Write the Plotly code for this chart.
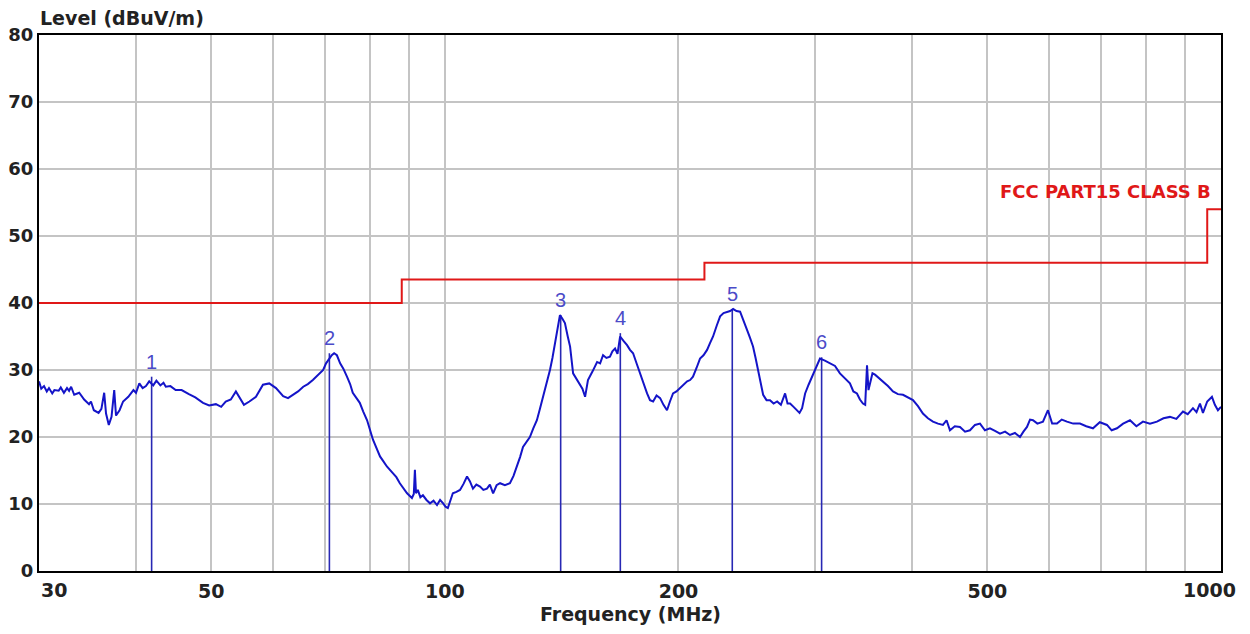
import math
import plotly.graph_objects as go

# ---- data ----
trace_freq = [30.0, 30.2, 30.45, 30.7, 30.9, 31.2, 31.4, 31.8, 32.0, 32.3, 32.6, 32.8, 33.0, 33.3, 33.8,
              34.3, 34.8, 35.0, 35.3, 35.8, 36.1, 36.4, 36.6, 36.9, 37.2, 37.5, 37.7, 38.1, 38.5, 39.1,
              39.7, 40.0, 40.4, 40.8, 41.2, 41.6, 42.1, 42.5, 43.0, 43.4, 43.7, 44.3, 45.0, 45.8, 46.8,
              47.7, 48.8, 49.7, 50.7, 51.5, 52.2, 53.0, 53.8, 54.5, 55.1, 56.0, 57.1, 58.3, 59.4, 60.6,
              61.9, 62.8, 63.7, 64.7, 65.7, 66.6, 67.6, 68.7, 69.7, 70.3, 70.9, 71.5, 72.0, 72.6, 73.3,
              74.0, 74.8, 75.5, 76.1, 76.9, 77.7, 78.5, 79.4, 80.8, 81.6, 82.5, 83.3, 84.2, 85.7, 86.6,
              87.5, 88.5, 89.4, 90.7, 91.2, 91.5, 91.8, 92.3, 93.0, 93.7, 94.7, 95.7, 96.7, 97.7, 98.6,
              99.5, 100.2, 100.9, 101.6, 102.4, 103.5, 104.6, 105.7, 106.8, 107.7, 108.7, 109.8, 111.0,
              112.1, 113.3, 114.3, 115.4, 116.6, 117.8, 119.5, 121.3, 122.6, 123.9, 125.0, 126.1, 127.4,
              128.7, 130.0, 131.4, 132.6, 133.8, 135.2, 136.6, 137.6, 138.7, 139.7, 140.7, 141.8, 142.8,
              144.0, 145.0, 146.3, 147.8, 149.3, 150.4, 151.6, 152.9, 155.0, 157.1, 158.5, 159.9, 161.5,
              163.2, 164.4, 165.7, 166.9, 168.2, 170.0, 171.7, 173.2, 174.8, 176.6, 178.4, 180.3, 182.2,
              183.8, 185.5, 187.4, 189.4, 191.3, 193.3, 195.0, 196.8, 198.8, 200.9, 203.0, 205.2, 207.0,
              208.8, 211.0, 213.2, 215.4, 217.7, 219.6, 221.6, 224.0, 226.3, 228.6, 231.0, 233.1, 235.2,
              237.6, 240.1, 242.6, 245.1, 247.3, 249.5, 251.4, 253.3, 255.2, 257.1, 259.7, 262.4, 265.2,
              268.0, 271.0, 274.4, 276.4, 278.5, 281.4, 284.3, 286.4, 288.6, 291.2, 294.2, 297.2, 300.6,
              304.3, 308.8, 313.5, 318.2, 322.9, 327.7, 332.6, 336.0, 339.6, 342.6, 345.7, 348.0, 349.9,
              351.4, 353.0, 355.6, 358.3, 362.5, 366.9, 372.3, 377.9, 383.5, 389.3, 395.0, 401.0, 407.0,
              413.0, 419.2, 425.5, 431.9, 438.3, 443.0, 447.5, 454.0, 461.0, 468.0, 474.9, 482.0, 489.2,
              496.4, 503.9, 511.5, 519.1, 527.0, 534.7, 542.7, 550.8, 556.5, 562.4, 567.5, 572.5, 580.0,
              589.7, 598.5, 606.0, 614.7, 623.5, 633.2, 645.0, 658.1, 670.5, 684.0, 698.0, 713.0, 723.0,
              734.5, 748.0, 763.4, 778.0, 793.4, 810.0, 827.0, 843.0, 859.5, 876.0, 893.3, 906.0, 920.2,
              930.0, 939.5, 947.9, 960.0, 973.5, 982.0, 991.0, 1000.0]
trace_level = [28.3, 27.2, 27.6, 26.8, 27.3, 26.5, 27.0, 26.9, 27.4, 26.6, 27.3, 26.9, 27.5, 26.3, 26.6,
               25.6, 24.9, 25.3, 24.0, 23.6, 24.2, 26.6, 23.5, 21.8, 23.0, 27.0, 23.2, 24.0, 25.3, 26.0,
               27.0, 26.6, 28.0, 27.3, 27.6, 28.3, 27.7, 28.4, 27.7, 28.1, 27.5, 27.6, 27.0, 27.0, 26.4,
               25.9, 25.1, 24.7, 24.9, 24.5, 25.3, 25.6, 26.8, 25.6, 24.8, 25.3, 26.0, 27.8, 28.0, 27.3,
               26.1, 25.8, 26.3, 26.8, 27.5, 27.9, 28.5, 29.3, 30.0, 31.0, 31.7, 32.2, 32.5, 32.2, 31.0,
               30.2, 29.0, 27.9, 26.6, 25.9, 25.1, 23.8, 22.5, 19.6, 18.3, 17.1, 16.4, 15.6, 14.6, 14.0,
               13.1, 12.3, 11.6, 10.9, 11.5, 15.1, 11.6, 12.1, 11.0, 11.3, 10.6, 10.1, 10.5, 9.85, 10.6,
               10.1, 9.6, 9.4, 10.4, 11.6, 11.8, 12.1, 13.0, 14.1, 13.4, 12.3, 12.9, 12.6,
               12.1, 12.3, 12.9, 11.6, 12.8, 13.1, 12.8, 13.1, 14.2, 15.6, 17.0, 18.5, 19.2,
               20.0, 21.3, 22.5, 24.2, 26.0, 27.8, 30.0, 31.8, 34.0, 36.2, 38.2, 37.6, 37.0,
               35.0, 33.5, 29.5, 28.6, 27.8, 27.2, 26.0, 28.5, 29.8, 31.2, 31.0, 32.2, 31.8,
               32.0, 32.8, 33.2, 32.4, 35.0, 34.3, 33.7, 33.0, 32.5, 31.0, 29.5, 28.0, 26.5,
               25.5, 25.3, 26.2, 25.8, 24.8, 24.0, 25.3, 26.5, 26.8, 27.3, 27.8, 28.3, 28.5,
               29.0, 30.3, 31.7, 32.2, 33.0, 34.0, 35.0, 36.6, 38.0, 38.5, 38.7, 38.8, 39.1,
               38.8, 38.7, 37.2, 36.0, 34.8, 33.5, 31.8, 30.0, 28.0, 26.3, 25.5, 25.5, 25.0,
               25.3, 24.8, 26.5, 25.0, 25.0, 24.5, 24.0, 23.6, 24.3, 26.5, 27.8, 29.0, 30.5,
               31.7, 31.4, 31.0, 30.6, 29.5, 28.8, 28.0, 26.8, 26.5, 25.6, 25.0, 24.8, 30.7,
               27.0, 28.0, 29.5, 29.3, 28.8, 28.3, 27.6, 26.8, 26.4, 26.3, 25.9, 25.5, 24.6,
               23.5, 22.8, 22.3, 22.0, 21.8, 22.5, 21.0, 21.6, 21.5, 20.8, 21.0, 21.8, 22.0,
               21.0, 21.3, 20.9, 20.5, 20.8, 20.3, 20.6, 20.0, 20.8, 21.5, 22.6, 22.5, 22.0,
               22.3, 24.0, 22.0, 22.0, 22.6, 22.3, 22.0, 22.0, 21.6, 21.3, 22.2, 21.8, 21.0,
               21.3, 22.0, 22.5, 21.6, 22.3, 22.0, 22.3, 22.8, 23.0, 22.7, 23.8, 23.4, 24.3,
               23.7, 25.0, 23.6, 25.3, 26.0, 24.8, 24.0, 24.5]

limit_freq = [30, 88, 88, 216, 216, 960, 960, 1000]
limit_level = [40, 40, 43.5, 43.5, 46, 46, 54, 54]
limit_name = "FCC PART15 CLASS B"

marker_labels = ["1", "2", "3", "4", "5", "6"]
marker_freq = [41.9, 71.0, 141.0, 168.3, 234.6, 305.8]
marker_level = [29.0, 32.5, 38.2, 35.5, 39.1, 31.9]

x_tickvals = [30, 40, 50, 60, 70, 80, 90, 100, 200, 300, 400, 500, 600, 700, 800, 900, 1000]
x_ticktext = ["", "", "50", "", "", "", "", "100", "200", "", "", "500",
              "", "", "", "", ""]
x_edge_labels = ["30", "1000"]
y_tickvals = [0, 10, 20, 30, 40, 50, 60, 70, 80]

FONT = "DejaVu Sans"
TRACE_BLUE = "#1414c8"
MARK_BLUE = "#2828b4"
LABEL_BLUE = "#4b4bc8"
RED = "#e01818"
TXT = "#222222"

fig = go.Figure()

# marker vertical lines
mx, my = [], []
for f, v in zip(marker_freq, marker_level):
    mx += [f, f, None]
    my += [0, v, None]
fig.add_trace(go.Scatter(x=mx, y=my, mode="lines", line=dict(color=MARK_BLUE, width=1.6),
                         hoverinfo="skip", showlegend=False))

# limit line
fig.add_trace(go.Scatter(x=limit_freq, y=limit_level, mode="lines", name=limit_name,
                         line=dict(color=RED, width=2), showlegend=False))

# measurement trace
fig.add_trace(go.Scatter(x=trace_freq, y=trace_level, mode="lines", name="Level",
                         line=dict(color=TRACE_BLUE, width=2), showlegend=False))

# marker labels
for lab, f, v in zip(marker_labels, marker_freq, marker_level):
    fig.add_annotation(x=math.log10(f), y=v, text=lab, showarrow=False, xref="x", yref="y",
                       yanchor="bottom", yshift=2,
                       font=dict(family="Liberation Sans", size=20, color=LABEL_BLUE))

# limit label
fig.add_annotation(x=0.993, xref="paper", y=56.6, yref="y", text=limit_name, showarrow=False,
                   xanchor="right", yanchor="middle",
                   font=dict(family=FONT, size=18, color=RED, weight="bold"))

# edge tick labels (30 left-aligned, 1000 right-aligned as in the original)
fig.add_annotation(x=0, xref="paper", y=0, yref="paper", text=x_edge_labels[0], showarrow=False,
                   xanchor="left", yanchor="middle", yshift=-19, xshift=0,
                   font=dict(family=FONT, size=19, color=TXT, weight="bold"))
fig.add_annotation(x=1, xref="paper", y=0, yref="paper", text=x_edge_labels[1], showarrow=False,
                   xanchor="right", yanchor="middle", yshift=-19, xshift=17,
                   font=dict(family=FONT, size=19, color=TXT, weight="bold"))

# axis titles
fig.add_annotation(x=0, xref="paper", y=1, yref="paper", text="Level (dBuV/m)", showarrow=False,
                   xanchor="left", yanchor="middle", yshift=17, xshift=-1,
                   font=dict(family=FONT, size=19, color=TXT, weight="bold"))
fig.add_annotation(x=0.5, xref="paper", y=0, yref="paper", text="Frequency (MHz)", showarrow=False,
                   xanchor="center", yanchor="middle", yshift=-43,
                   font=dict(family=FONT, size=19, color=TXT, weight="bold"))

# page body has an 8px margin, so the figure is sized to fit the window without scrollbars
fig.update_layout(
    width=1234, height=618,
    margin=dict(l=31, r=21, t=27, b=55, autoexpand=False),
    paper_bgcolor="white", plot_bgcolor="white",
    showlegend=False,
    xaxis=dict(type="log", range=[math.log10(30) - 1e-5, 3 + 1e-5], tickvals=x_tickvals,
               ticktext=x_ticktext, automargin=False, ticklabeloverflow="allow",
               showgrid=True, gridcolor="#c4c4c4", gridwidth=1.5,
               showline=True, linecolor="black", linewidth=2, mirror=True,
               ticks="", ticklabelstandoff=2, zeroline=False,
               tickfont=dict(family=FONT, size=19, color=TXT, weight="bold")),
    yaxis=dict(range=[0, 80], tickvals=y_tickvals, automargin=False, ticklabeloverflow="allow",
               showgrid=True, gridcolor="#c4c4c4", gridwidth=1.5,
               showline=True, linecolor="black", linewidth=2, mirror=True,
               ticks="", ticklabelstandoff=0, zeroline=False,
               tickfont=dict(family=FONT, size=18, color=TXT, weight="bold")),
)

fig.write_html("out.html")
